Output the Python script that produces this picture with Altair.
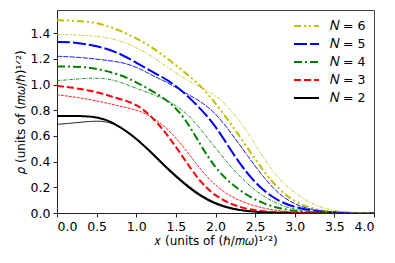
import altair as alt
import pandas as pd

x = [0.0, 0.2, 0.4, 0.6, 0.8, 1.0, 1.2, 1.4, 1.6, 1.8, 2.0, 2.2, 2.4, 2.6, 2.8, 3.0, 3.2, 3.4, 3.6, 3.8, 4.0]

labels = ["𝑁 = 6", "𝑁 = 5", "𝑁 = 4", "𝑁 = 3", "𝑁 = 2"]
colors = ["#bfbf00", "#0000ff", "#008000", "#ff0000", "#000000"]

thick = {
    "𝑁 = 2": [0.754, 0.755, 0.754, 0.735, 0.67, 0.58, 0.465, 0.34, 0.23, 0.135, 0.07, 0.033, 0.014, 0.005, 0.002, 0.0005, 0, 0, 0, 0, 0],
    "𝑁 = 3": [0.99, 0.975, 0.955, 0.925, 0.885, 0.85, 0.75, 0.605, 0.425, 0.245, 0.13, 0.067, 0.03, 0.012, 0.005, 0.002, 0, 0, 0, 0, 0],
    "𝑁 = 4": [1.14, 1.14, 1.135, 1.11, 1.075, 1.02, 0.95, 0.875, 0.755, 0.54, 0.345, 0.225, 0.135, 0.075, 0.036, 0.015, 0.005, 0.001, 0, 0, 0],
    "𝑁 = 5": [1.33, 1.33, 1.31, 1.285, 1.24, 1.17, 1.10, 1.035, 0.94, 0.82, 0.68, 0.48, 0.305, 0.175, 0.09, 0.045, 0.02, 0.008, 0.002, 0, 0],
    "𝑁 = 6": [1.50, 1.497, 1.49, 1.465, 1.42, 1.36, 1.29, 1.20, 1.10, 1.0, 0.855, 0.69, 0.51, 0.33, 0.18, 0.088, 0.036, 0.012, 0.003, 0, 0],
}
thin = {
    "𝑁 = 2": [0.69, 0.70, 0.713, 0.718, 0.675, 0.585, 0.47, 0.35, 0.24, 0.145, 0.078, 0.038, 0.016, 0.006, 0.002, 0.001, 0, 0, 0, 0, 0],
    "𝑁 = 3": [0.92, 0.905, 0.885, 0.86, 0.83, 0.805, 0.75, 0.655, 0.515, 0.345, 0.21, 0.125, 0.072, 0.037, 0.016, 0.006, 0.002, 0, 0, 0, 0],
    "𝑁 = 4": [1.03, 1.04, 1.05, 1.05, 1.02, 0.97, 0.925, 0.875, 0.80, 0.665, 0.505, 0.355, 0.225, 0.13, 0.065, 0.027, 0.01, 0.003, 0, 0, 0],
    "𝑁 = 5": [1.22, 1.215, 1.205, 1.19, 1.175, 1.14, 1.07, 1.015, 0.94, 0.875, 0.78, 0.62, 0.45, 0.28, 0.145, 0.066, 0.027, 0.01, 0.003, 0, 0],
    "𝑁 = 6": [1.39, 1.387, 1.38, 1.37, 1.34, 1.29, 1.22, 1.13, 1.05, 0.98, 0.92, 0.80, 0.64, 0.43, 0.26, 0.155, 0.075, 0.03, 0.01, 0.002, 0],
}

dash_thick = [[7, 3, 2, 3, 2, 3], [13, 3], [8, 3, 2, 3], [7, 3], [1, 0]]
dash_thin = [[2.8, 1.2, 0.8, 1.2, 0.8, 1.2], [5.2, 1.2], [3.2, 1.2, 0.8, 1.2], [2.8, 1.2], [1, 0]]

def frame(d):
    rows = []
    for k, ys in d.items():
        for xi, yi in zip(x, ys):
            rows.append({"x": xi, "rho": yi, "N": k})
    return pd.DataFrame(rows)

df_thick = frame(thick)
df_thin = frame(thin)

xenc = alt.X("x:Q", scale=alt.Scale(domain=[0, 4], nice=False),
             axis=alt.Axis(values=[0, 0.5, 1, 1.5, 2, 2.5, 3, 3.5, 4], format=".1f",
                           title="𝑥 (units of (ℏ/𝑚𝜔)¹ᐟ²)"))
yenc = alt.Y("rho:Q", scale=alt.Scale(domain=[0, 1.58], nice=False),
             axis=alt.Axis(values=[0, 0.2, 0.4, 0.6, 0.8, 1.0, 1.2, 1.4], format=".1f",
                           title="𝜌 (units of (𝑚𝜔/ℏ)¹ᐟ²)"))

legend = alt.Legend(title=None, orient="none", legendX=236, legendY=7,
                    symbolType="stroke", symbolStrokeWidth=2, symbolSize=625,
                    clipHeight=18, rowPadding=0, labelFont="DejaVu Sans",
                    labelFontSize=12.5, labelOffset=10, labelColor="black")

thick_layer = alt.Chart(df_thick).mark_line(strokeWidth=2, interpolate="basis", clip=True).encode(
    x=xenc, y=yenc,
    color=alt.Color("N:N", scale=alt.Scale(domain=labels, range=colors), legend=legend),
    strokeDash=alt.StrokeDash("N:N", scale=alt.Scale(domain=labels, range=dash_thick), legend=legend),
)
thin_layer = alt.Chart(df_thin).mark_line(strokeWidth=0.9, interpolate="basis", clip=True).encode(
    x=xenc, y=yenc,
    color=alt.Color("N:N", scale=alt.Scale(domain=labels, range=colors), legend=None),
    strokeDash=alt.StrokeDash("N:N", scale=alt.Scale(domain=labels, range=dash_thin), legend=None),
)

chart = alt.layer(thick_layer, thin_layer).resolve_scale(
    color="independent", strokeDash="independent"
).properties(
    width=317, height=203,
    autosize=alt.AutoSizeParams(type="none"),
    padding={"left": 49, "top": 2, "right": 13, "bottom": 40},
).configure_view(
    stroke="#444", strokeWidth=1
).configure_axis(
    labelFont="DejaVu Sans", titleFont="DejaVu Sans", labelFontSize=12.5, titleFontSize=12,
    labelColor="black", titleColor="black", titleFontWeight="normal",
    domainColor="#222", tickColor="#222", tickSize=4, labelPadding=3, grid=False,
    titlePadding=3,
)

chart.save("out.html", embed_options={"renderer": "svg", "actions": False})
